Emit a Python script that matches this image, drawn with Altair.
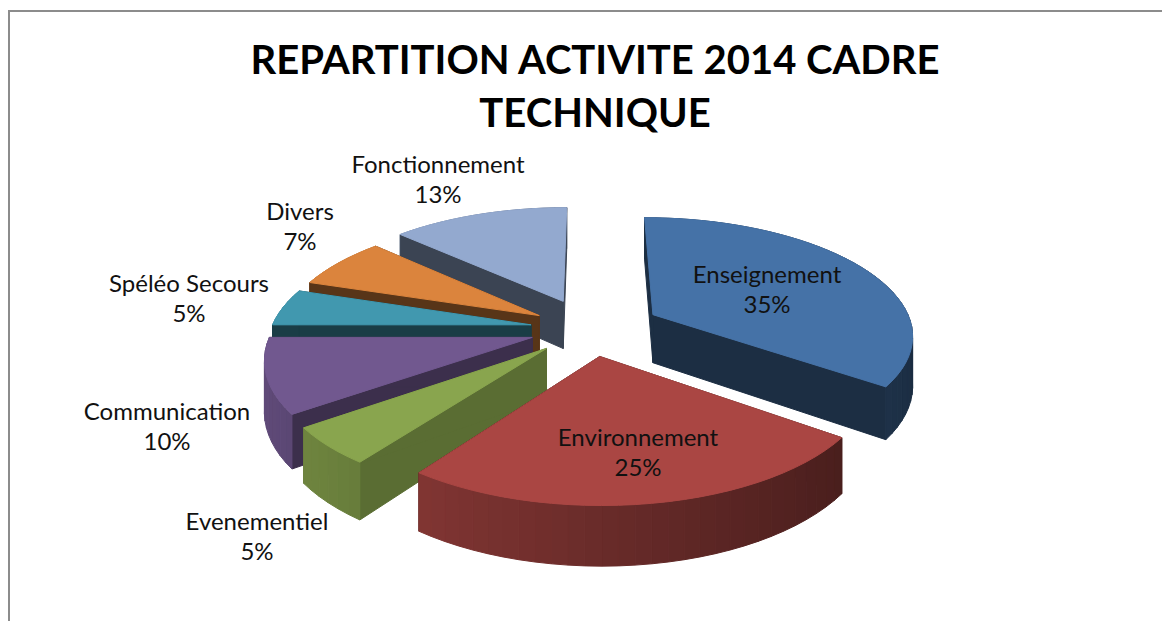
import math
import altair as alt
import pandas as pd

# --- chart values -----------------------------------------------------------
CATEGORIES = ["Enseignement", "Environnement", "Evenementiel", "Communication",
              "Spéléo Secours", "Divers", "Fonctionnement"]
SHARES = [35, 25, 5, 10, 5, 7, 13]
TITLE_LINES = ["REPARTITION ACTIVITE 2014 CADRE", "TECHNIQUE"]

# --- styles -----------------------------------------------------------------
TOP_COLORS = ["#4572A7", "#AA4643", "#89A54E", "#71588F", "#4198AF", "#DB843D", "#93A9CF"]
WALL_SHADE = [0.40, 0.40, 0.66, 0.53, 0.40, 0.40, 0.40]
EXPLODE = [72, 60, 60, 60, 60, 60, 70]
DRAW_ORDER = [6, 0, 5, 4, 3, 2, 1]
LABEL_X = [767, 638, 257, 167, 189, 300, 438]
LABEL_Y = [276, 439, 523, 413, 285, 213, 166]

# --- projection of the tilted pie ------------------------------------------
CX, CY, R, K, P, DEPTH = 590, 329, 260, 0.447, 0.0006, 49
W, H = 1154, 613


def project(u, v, z=0.0):
    s = 1 / (1 + P * v)
    return CX + s * u, CY - K * s * v + z * s


def shade(color, f):
    rgb = [int(color[i:i + 2], 16) for i in (1, 3, 5)]
    return "#" + "".join(f"{round(c * f):02x}" for c in rgb)


rows = []
piece = 0


def add_polygon(points, fill):
    global piece
    piece += 1
    for i, (x, y) in enumerate(points + points[:1]):
        rows.append({"x": x, "y": y, "piece": f"{piece:04d}", "i": i, "fill": fill})


starts = []
acc = 0
for s_ in SHARES:
    starts.append(acc)
    acc += s_

for idx in DRAW_ORDER:
    a0 = starts[idx] * 3.6
    a1 = (starts[idx] + SHARES[idx]) * 3.6
    mid = math.radians((a0 + a1) / 2)
    ou, ov = EXPLODE[idx] * math.sin(mid), EXPLODE[idx] * math.cos(mid)
    color = TOP_COLORS[idx]
    n = max(4, int((a1 - a0) / 3))
    angles = [math.radians(a0 + (a1 - a0) * j / n) for j in range(n + 1)]
    rim = [(ou + R * math.sin(t), ov + R * math.cos(t)) for t in angles]

    strips = []
    for j in range(n):
        (u0, v0), (u1, v1) = rim[j], rim[j + 1]
        tm = (angles[j] + angles[j + 1]) / 2
        f = 0.62 - 0.23 * math.sin(tm)
        poly = [project(u0, v0), project(u1, v1), project(u1, v1, DEPTH), project(u0, v0, DEPTH)]
        strips.append((math.cos(tm) > 0, poly, shade(color, f)))

    for back, poly, fill in strips:
        if back:
            add_polygon(poly, fill)
    wall = shade(color, WALL_SHADE[idx])
    for (u, v) in (rim[0], rim[-1]):
        add_polygon([project(ou, ov), project(u, v), project(u, v, DEPTH), project(ou, ov, DEPTH)], wall)
    for back, poly, fill in strips:
        if not back:
            add_polygon(poly, fill)
    add_polygon([project(ou, ov)] + [project(u, v) for u, v in rim], color)

df = pd.DataFrame(rows)
labels = pd.DataFrame({
    "x": LABEL_X, "y": LABEL_Y,
    "text": [f"{c}\n{s}%" for c, s in zip(CATEGORIES, SHARES)],
})
border = pd.DataFrame({"x": [9, 9, 8 + W], "y": [8 + H, 11, 11], "i": [0, 1, 2]})

xs = alt.Scale(domain=[8, 8 + W], nice=False, zero=False)
ys = alt.Scale(domain=[8 + H, 8], nice=False, zero=False)
X = alt.X("x:Q", scale=xs, axis=None)
Y = alt.Y("y:Q", scale=ys, axis=None)

frame = alt.Chart(border).mark_line(color="#8c8c8c", strokeWidth=2, clip=False).encode(X, Y, order="i:Q")

faces = alt.Chart(df).mark_line(strokeWidth=1, clip=False).encode(
    X, Y,
    detail="piece:N",
    order="i:Q",
    fill=alt.Fill("fill:N", scale=None),
    stroke=alt.Stroke("fill:N", scale=None),
)

text = alt.Chart(labels).mark_text(
    font="Lato", fontSize=24, lineBreak="\n", lineHeight=30, color="#111111"
).encode(X, Y, text="text:N")

chart = alt.layer(frame, faces, text).properties(
    width=W, height=H,
    padding=0,
    autosize=alt.AutoSizeParams(type="none"),
    background="white",
    title=alt.TitleParams(
        text=TITLE_LINES, orient="none", anchor="middle", font="Lato", fontSize=40,
        fontWeight="bold", color="#000000", lineHeight=53, dy=34, dx=587,
    ),
).configure_view(stroke=None)

chart.save("out.html", embed_options={"renderer": "svg", "actions": False})
